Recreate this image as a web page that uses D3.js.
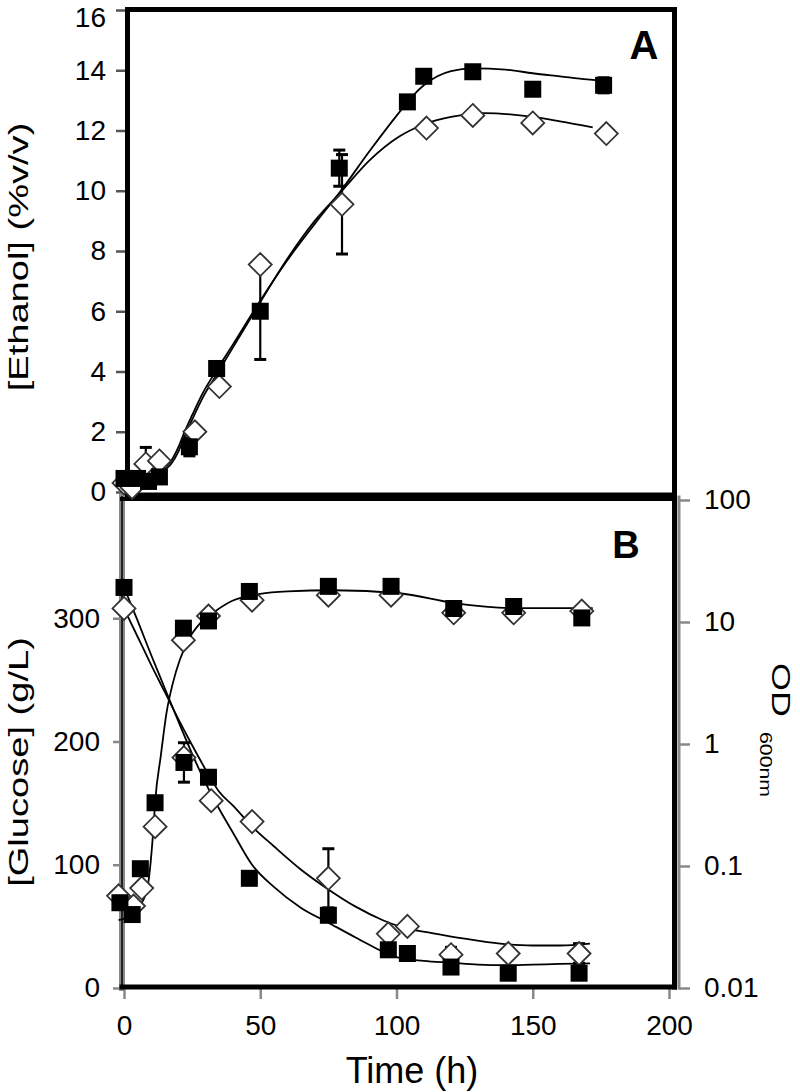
<!DOCTYPE html>
<html><head><meta charset="utf-8">
<script src="https://cdn.jsdelivr.net/npm/d3@7"></script>
<style>
body{margin:0;background:#fff}
text{font-family:"Liberation Sans",Arial,Helvetica,sans-serif;fill:#000}
</style>
</head><body><svg id="c" width="800" height="1092"></svg>
<script>
// ---------- Panel A: ethanol (%v/v) ----------
const ethTimeFilled = [0, 5, 9, 13, 24, 34, 50, 79, 104, 110, 128, 150, 176];
const ethFilled     = [0.45, 0.45, 0.35, 0.5, 1.5, 4.1, 6.0, 10.75, 12.95, 13.8, 13.95, 13.37, 13.5];
const ethFilledErr  = [0, 0, 0, 0, 0.3, 0, 1.6, 0.6, 0, 0, 0.15, 0, 0.25];
const ethTimeOpen   = [0, 3, 8, 13, 26, 35, 50, 80, 111, 128, 150, 177];
const ethOpen       = [0.3, 0.15, 0.93, 1.03, 2.0, 3.5, 7.55, 9.55, 12.08, 12.5, 12.25, 11.9];
const ethOpenErr    = [0, 0, 0.55, 0, 0, 0, 0, 1.65, 0, 0, 0, 0];
const ethFitTimeFilled = [0,5,10,14,17,20,22,25,29,34,40,50,60,70,80,90,101,106,110,115,120,128,140,150,160,170,176];
const ethFitFilled     = [0.45,0.5,0.62,0.78,1.0,1.5,1.95,2.55,3.3,4.05,4.9,6.35,7.7,8.9,10.05,11.3,12.6,13.15,13.5,13.8,13.97,14.06,14.02,13.9,13.8,13.7,13.65];
const ethFitTimeOpen   = [0,5,10,14,17,20,22,25,29,34,40,50,60,70,80,90,101,110,120,132,150,160,172];
const ethFitOpen       = [0.2,0.33,0.52,0.7,0.9,1.35,1.8,2.4,3.15,3.9,4.8,6.3,7.75,9.0,10.0,11.0,11.8,12.2,12.45,12.58,12.45,12.3,12.1];

// ---------- Panel B: glucose (g/L) ----------
const glcTimeFilled = [0, 22, 31, 46, 75, 97, 104, 120, 141, 167];
const glcFilled     = [325, 183, 171, 89, 59, 31, 28, 17, 12, 12];
const glcFilledErr  = [0, 16, 0, 0, 0, 0, 0, 0, 0, 0];
const glcTimeOpen   = [0, 22, 32, 47, 75, 97, 104, 120, 141, 167];
const glcOpen       = [308, 187, 152, 135, 89, 44, 50, 27, 28, 28];
const glcOpenErr    = [0, 0, 0, 0, 24, 0, 0, 6, 0, 8];
const glcFitTimeFilled = [0,5,10,15,20,25,30,35,40,47,55,65,75,85,100,110,120,130,140,150,160,171];
const glcFitFilled     = [325,298,270,243,216,190,166,145,126,100,82,65,53,41,25,22,20.5,19,18.5,19,19.5,20];
const glcFitTimeOpen   = [0,5,10,15,20,25,30,35,40,47,55,65,75,85,95,101,113,125,138,150,160,171];
const glcFitOpen       = [308,285,262,240,218,197,177,159,148,131,115,96,80,66,55,50,44.5,40,36,34.5,34.5,36];

// ---------- Panel B: OD600 (log) ----------
const odTimeFilled = [-1.5, 3, 6, 11.4, 21.8, 31, 46, 75, 98, 121, 143, 168];
const odFilled     = [0.05, 0.04, 0.095, 0.33, 8.9, 10.2, 17.8, 19.6, 19.6, 12.9, 13.4, 10.8];
const odTimeOpen   = [-2, 3.5, 6.5, 11.4, 21.8, 31, 47, 75, 98, 121, 143, 168];
const odOpen       = [0.057, 0.047, 0.066, 0.21, 7.1, 11.2, 15.1, 16.6, 16.6, 11.9, 11.9, 12.3];
const odFitTime    = [-2, 3, 5, 8.4, 10.7, 11.5, 13.5, 15.6, 18, 20.5, 24, 28, 34, 40, 50, 60, 77, 101, 121, 143, 172];
const odFit        = [0.036, 0.04, 0.045, 0.063, 0.19, 0.35, 0.8, 1.8, 3.2, 4.9, 7.4, 9.8, 12.5, 15, 17, 17.8, 18.2, 17.2, 14.3, 13, 13];

// ---------- tick labels ----------
const timeTicks = [0, 50, 100, 150, 200];
const ethTicks  = [0, 2, 4, 6, 8, 10, 12, 14, 16];
const glcTicks  = [0, 100, 200, 300];
const odTicks   = [0.01, 0.1, 1, 10, 100];
const odTickLabels = ["0.01", "0.1", "1", "10", "100"];

// ================= drawing =================
const svg = d3.select("#c");
const x   = d3.scaleLinear().domain([0, 200]).range([124, 669]);
const yA  = d3.scaleLinear().domain([0, 16]).range([492, 10]);
const yG  = d3.scaleLinear().domain([0, 400]).range([988, 495]);
const yOD = d3.scaleLog().domain([0.01, 100]).range([988, 500]);

function styleAxis(g, color, fs) {
  g.select(".domain").remove();
  g.selectAll(".tick line").attr("stroke", color).attr("stroke-width", 2.5);
  g.selectAll(".tick text").attr("font-size", fs).attr("fill", "#000")
    .attr("font-family", '"Liberation Sans", Arial, sans-serif');
}

// Panel A left axis
svg.append("g").attr("transform", "translate(125,0)")
  .call(d3.axisLeft(yA).tickValues(ethTicks).tickSize(9).tickPadding(10))
  .call(g => styleAxis(g, "#555", 28))
  .call(g => g.selectAll(".tick text").filter(d => d === 16).attr("dy", "0.6em"));

// Panel B left axis (glucose)
svg.append("g").attr("transform", "translate(122,0)")
  .call(d3.axisLeft(yG).tickValues(glcTicks).tickSize(9).tickPadding(13))
  .call(g => styleAxis(g, "#888", 28));

// Panel B right axis (OD)
svg.append("g").attr("transform", "translate(679,0)")
  .call(d3.axisRight(yOD).tickValues(odTicks).tickFormat((d, i) => odTickLabels[i]).tickSize(11).tickPadding(14))
  .call(g => styleAxis(g, "#888", 28));

// X axis
svg.append("g").attr("transform", "translate(0,988)")
  .call(d3.axisBottom(x).tickValues(timeTicks).tickSize(11).tickPadding(16))
  .call(g => styleAxis(g, "#888", 28));

// frames
const fr = svg.append("g").attr("stroke-linecap", "square");
function ln(x1, y1, x2, y2, c, w) {
  fr.append("line").attr("x1", x1).attr("y1", y1).attr("x2", x2).attr("y2", y2)
    .attr("stroke", c).attr("stroke-width", w);
}
// panel A
ln(127.5, 9.5, 674.5, 9.5, "#000", 5);
ln(127.5, 9.5, 127.5, 495, "#000", 5);
ln(674.5, 9.5, 674.5, 495, "#000", 5);
ln(127.5, 495, 674.5, 495, "#000", 5);
// panel B
ln(122, 497, 122, 988, "#888", 6);
ln(122, 497, 122, 988, "#222", 2);
ln(679, 497, 679, 988, "#888", 3);
ln(122, 499, 674.5, 499, "#000", 4);
ln(674.5, 499, 674.5, 987, "#000", 5);
ln(122, 987, 674.5, 987, "#000", 5);

// fitted curves
const plot = svg.append("g");
function curve(ts, vs, ys) {
  const pts = ts.map((t, i) => [x(t), ys(vs[i])]);
  plot.append("path").attr("d", d3.line().curve(d3.curveMonotoneX)(pts))
    .attr("fill", "none").attr("stroke", "#000").attr("stroke-width", 1.8);
}
curve(ethFitTimeFilled, ethFitFilled, yA);
curve(ethFitTimeOpen, ethFitOpen, yA);
curve(glcFitTimeFilled, glcFitFilled, yG);
curve(glcFitTimeOpen, glcFitOpen, yG);
curve(odFitTime, odFit, yOD);

// error bars
function errs(ts, vs, es, ys) {
  ts.forEach((t, i) => {
    if (!es[i]) return;
    const cx = x(t), y1 = ys(vs[i] - es[i]), y2 = ys(vs[i] + es[i]);
    plot.append("line").attr("x1", cx).attr("x2", cx).attr("y1", y1).attr("y2", y2)
      .attr("stroke", "#000").attr("stroke-width", 2.2);
    [y1, y2].forEach(yy => plot.append("line").attr("x1", cx - 6).attr("x2", cx + 6)
      .attr("y1", yy).attr("y2", yy).attr("stroke", "#000").attr("stroke-width", 3));
  });
}
errs(ethTimeFilled, ethFilled, ethFilledErr, yA);
errs(ethTimeOpen, ethOpen, ethOpenErr, yA);
errs(glcTimeFilled, glcFilled, glcFilledErr, yG);
errs(glcTimeOpen, glcOpen, glcOpenErr, yG);

// markers
const dia = "M0,-11.5L11.5,0L0,11.5L-11.5,0Z";
function diamonds(ts, vs, ys) {
  plot.append("g").selectAll("path").data(ts).join("path")
    .attr("d", dia).attr("transform", (t, i) => `translate(${x(t)},${ys(vs[i])})`)
    .attr("fill", "#fff").attr("stroke", "#333").attr("stroke-width", 1.8);
}
function squares(ts, vs, ys) {
  plot.append("g").selectAll("rect").data(ts).join("rect")
    .attr("x", t => x(t) - 8.5).attr("y", (t, i) => ys(vs[i]) - 8.5)
    .attr("width", 17).attr("height", 17).attr("fill", "#000");
}
diamonds(ethTimeOpen, ethOpen, yA);
squares(ethTimeFilled, ethFilled, yA);
diamonds(glcTimeOpen, glcOpen, yG);
diamonds(odTimeOpen, odOpen, yOD);
squares(glcTimeFilled, glcFilled, yG);
squares(odTimeFilled, odFilled, yOD);

// panel letters
svg.append("text").attr("x", 644).attr("y", 59).attr("text-anchor", "middle")
  .attr("font-size", 40).attr("font-weight", "bold").text("A");
svg.append("text").attr("x", 626).attr("y", 558).attr("text-anchor", "middle")
  .attr("font-size", 38).attr("font-weight", "bold").text("B");

// axis titles
svg.append("text").attr("transform", "translate(28,257) rotate(-90) scale(1.36,1)")
  .attr("text-anchor", "middle").attr("font-size", 28).text("[Ethanol] (%v/v)");
svg.append("text").attr("transform", "translate(28,762) rotate(-90) scale(1.36,1)")
  .attr("text-anchor", "middle").attr("font-size", 28).text("[Glucose] (g/L)");
svg.append("text").attr("transform", "translate(772,663) rotate(90) scale(1.44,1)")
  .attr("text-anchor", "start").attr("font-size", 25).text("OD");
svg.append("text").attr("transform", "translate(760,732) rotate(90) scale(1.25,1)")
  .attr("text-anchor", "start").attr("font-size", 17).text("600nm");
svg.append("text").attr("x", 412).attr("y", 1083).attr("text-anchor", "middle")
  .attr("font-size", 36).text("Time (h)");
</script>
</body></html>
